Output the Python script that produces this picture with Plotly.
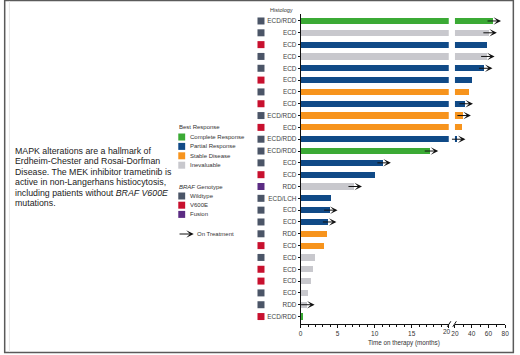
import plotly.graph_objects as go

# ---------------- data ----------------
histology = ["ECD/RDD", "ECD", "ECD", "ECD", "ECD", "ECD", "ECD", "ECD", "ECD/RDD", "ECD",
             "ECD/RDD", "ECD/RDD", "ECD", "ECD", "RDD", "ECD/LCH", "ECD", "ECD", "RDD", "ECD",
             "ECD", "ECD", "ECD", "ECD", "RDD", "ECD/RDD"]
response = ["CR", "NE", "PR", "NE", "PR", "PR", "SD", "PR", "SD", "SD",
            "PR", "CR", "PR", "PR", "NE", "PR", "PR", "PR", "SD", "SD",
            "NE", "NE", "NE", "NE", "NE", "CR"]
months = [65.5, 60.5, 58.0, 57.8, 55.3, 40.0, 36.8, 32.0, 29.5, 28.2,
          23.0, 17.5, 11.1, 10.0, 7.2, 4.1, 3.9, 3.75, 3.55, 3.2,
          1.95, 1.6, 1.33, 0.93, 0.8, 0.3]
genotype = ["WT", "WT", "V600E", "WT", "WT", "V600E", "WT", "V600E", "WT", "V600E",
            "WT", "WT", "WT", "V600E", "Fusion", "WT", "WT", "WT", "WT", "V600E",
            "WT", "V600E", "V600E", "WT", "WT", "V600E"]
on_treatment = [1, 1, 0, 1, 1, 0, 0, 1, 1, 0,
                1, 1, 1, 0, 1, 0, 1, 1, 0, 0,
                0, 0, 0, 0, 1, 0]

response_labels = ["Complete Response", "Partial Response", "Stable Disease", "Inevaluable"]
response_keys = ["CR", "PR", "SD", "NE"]
genotype_labels = ["Wildtype", "V600E", "Fusion"]
genotype_keys = ["WT", "V600E", "Fusion"]
left_ticks = [0, 5, 10, 15, 20]
left_tick_text = ["0", "5", "10", "15", ""]
left_break_label = "20"
right_ticks = [20, 40, 60, 80]
summary_lines = ["MAPK alterations are a hallmark of",
                 "Erdheim-Chester and Rosai-Dorfman",
                 "Disease. The MEK inhibitor trametinib is",
                 "active in non-Langerhans histiocytosis,",
                 "including patients without <i>BRAF V600E</i>",
                 "mutations."]

# ---------------- styles ----------------
RESP_COL = {"CR": "#3BAA35", "PR": "#104A87", "SD": "#F7941D", "NE": "#C8C8CD"}
GENO_COL = {"WT": "#4B5567", "V600E": "#C8102E", "Fusion": "#5B2C83"}
FONT = "Arial, Liberation Sans, Helvetica, sans-serif"
TXT = "#333333"
W, H = 520, 355


def px(x):
    return x / W


def py(y):
    return 1 - y / H


def label(x, y, text, size, color=TXT, xanchor="left", xref="paper", xshift=0):
    return dict(x=x, y=py(y), xref=xref, yref="paper", text=text, showarrow=False,
                xanchor=xanchor, yanchor="middle", xshift=xshift, borderpad=0,
                font=dict(size=size, color=color, family=FONT))


rows = list(range(len(histology)))
bar_cols = [RESP_COL[r] for r in response]

fig = go.Figure()
fig.add_trace(go.Bar(y=rows, x=months, orientation="h", marker=dict(color=bar_cols, line=dict(width=0)),
                     width=0.52, xaxis="x", yaxis="y", showlegend=False, hoverinfo="skip"))
fig.add_trace(go.Bar(y=rows, x=months, orientation="h", marker=dict(color=bar_cols, line=dict(width=0)),
                     width=0.52, xaxis="x2", yaxis="y", showlegend=False, hoverinfo="skip"))
fig.add_trace(go.Scatter(x=[0.5] * len(rows), y=rows, mode="markers",
                         marker=dict(symbol="square", size=7, color=[GENO_COL[g] for g in genotype],
                                     line=dict(width=0)),
                         xaxis="x3", yaxis="y", showlegend=False, hoverinfo="skip"))

annotations = []
shapes = []

# on-treatment arrows
for r, v, t in zip(rows, months, on_treatment):
    if t:
        annotations.append(dict(x=v, y=r, xref="x2" if v > 20 else "x", yref="y", text="",
                                showarrow=True, ax=-15, ay=0, xshift=8, arrowhead=3,
                                arrowsize=1.25, arrowwidth=1, arrowcolor="#111111", standoff=0))

# left-panel "20" label (nudged left of the break, as in the original)
annotations.append(label(left_ticks[-1], 331.7, left_break_label, 6.5, xanchor="center", xref="x",
                         xshift=-1.5))

# titles
annotations.append(label(px(282), 10, "Histology", 5.5, xanchor="center"))
annotations.append(label(px(406), 343, "Time on therapy (months)", 6.3, xanchor="center"))

# summary text
for i, line in enumerate(summary_lines):
    annotations.append(label(px(10.5), 150.5 + 10.5 * i, line, 8.8, color="#222222"))

# legend: best response
annotations.append(label(px(176.5), 127.3, "Best Response", 6))
for i, (lab, key) in enumerate(zip(response_labels, response_keys)):
    yc = 137 + 9.4 * i
    shapes.append(dict(type="rect", xref="paper", yref="paper", x0=px(177), x1=px(184),
                       y0=py(yc + 3.5), y1=py(yc - 3.5), fillcolor=RESP_COL[key], line=dict(width=0)))
    annotations.append(label(px(187.5), yc, lab, 6))

# legend: genotype
annotations.append(label(px(176.5), 186.7, "<i>BRAF</i> Genotype", 6))
for i, (lab, key) in enumerate(zip(genotype_labels, genotype_keys)):
    yc = 196 + 9.2 * i
    shapes.append(dict(type="rect", xref="paper", yref="paper", x0=px(177), x1=px(184),
                       y0=py(yc + 3.5), y1=py(yc - 3.5), fillcolor=GENO_COL[key], line=dict(width=0)))
    annotations.append(label(px(187.5), yc, lab, 6))

# legend: on treatment
annotations.append(dict(x=px(192.7), y=py(234), ax=-15.7, ay=0, xref="paper", yref="paper",
                        text="", showarrow=True, arrowhead=3,
                        arrowsize=1.25, arrowwidth=1, arrowcolor="#111111", standoff=0))
annotations.append(label(px(195.5), 234, "On Treatment", 6))

# axis break marks
for x0 in (450.2, 455.8):
    shapes.append(dict(type="line", xref="paper", yref="paper", x0=px(x0), x1=px(x0 + 3.6),
                       y0=py(326.8), y1=py(321.3), line=dict(color="#111111", width=1)))

# frame
shapes.append(dict(type="rect", xref="paper", yref="paper", x0=px(0.7), x1=px(517.3),
                   y0=py(352.5), y1=py(0.5), line=dict(color="#5a5a5a", width=1.5)))
shapes.append(dict(type="line", xref="paper", yref="paper", x0=px(5.5), x1=px(5.5),
                   y0=py(352), y1=py(1), line=dict(color="#e6e6e6", width=1)))

axis_common = dict(showline=True, linecolor="#111111", linewidth=1, ticks="outside", ticklen=3,
                   tickcolor="#111111", tickwidth=1, showgrid=False, zeroline=False,
                   tickfont=dict(size=6.5, color=TXT, family=FONT), fixedrange=True)

fig.update_layout(
    width=W, height=H, margin=dict(l=0, r=0, t=0, b=0),
    paper_bgcolor="white", plot_bgcolor="white", bargap=0, barmode="overlay",
    xaxis=dict(domain=[px(301.3), px(451.7)], range=[0, 20], anchor="y", tickvals=left_ticks,
               ticktext=left_tick_text,
               minor=dict(dtick=1, ticks="outside", ticklen=1.5, tickcolor="#111111"), **axis_common),
    xaxis2=dict(domain=[px(458), px(509)], range=[20, 80], anchor="y", tickvals=right_ticks,
                minor=dict(dtick=10, ticks="outside", ticklen=1.5, tickcolor="#111111"), **axis_common),
    xaxis3=dict(domain=[px(255), px(267)], range=[0, 1], anchor="y", visible=False, fixedrange=True),
    yaxis=dict(domain=[py(324), py(14)], range=[25.63, -0.59], anchor="x", tickvals=rows,
               ticktext=histology, showline=True, linecolor="#111111", linewidth=1, ticks="outside",
               ticklen=2, tickcolor="#111111", showgrid=False, zeroline=False,
               tickfont=dict(size=6.4, color="#444444", family=FONT), fixedrange=True),
    annotations=annotations, shapes=shapes,
)

fig.write_html("out.html", config={"displayModeBar": False, "staticPlot": True},
               post_script="document.body.style.margin='0';document.body.style.overflow='hidden';")
